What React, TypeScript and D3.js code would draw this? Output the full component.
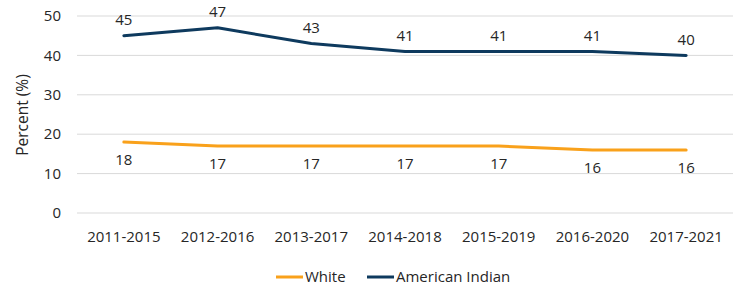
import { useEffect, useRef } from "react"
import * as d3 from "d3"

const periods = ["2011-2015", "2012-2016", "2013-2017", "2014-2018", "2015-2019", "2016-2020", "2017-2021"]
const whiteValues = [18, 17, 17, 17, 17, 16, 16]
const americanIndianValues = [45, 47, 43, 41, 41, 41, 40]
const yTicks = [0, 10, 20, 30, 40, 50]

const series = [
  { name: "White", values: whiteValues, color: "#F9A11B", labelBelow: true },
  { name: "American Indian", values: americanIndianValues, color: "#0E3A5E", labelBelow: false },
]

const FONT = "'Open Sans', sans-serif"
const TEXT = "#262626"

export default function App() {
  const svgRef = useRef<SVGSVGElement>(null)

  useEffect(() => {
    const svg = d3.select(svgRef.current)
    svg.selectAll("*").remove()

    const x = d3.scalePoint<string>().domain(periods).range([77, 733]).padding(0.5)
    const y = d3.scaleLinear().domain([0, 50]).range([213, 16])

    // grid
    svg.append("g")
      .selectAll("line")
      .data(yTicks)
      .enter()
      .append("line")
      .attr("x1", 77)
      .attr("x2", 733)
      .attr("y1", d => y(d))
      .attr("y2", d => y(d))
      .attr("stroke", "#d9d9d9")
      .attr("stroke-width", 1)

    // y labels
    svg.append("g")
      .selectAll("text")
      .data(yTicks)
      .enter()
      .append("text")
      .attr("x", 61)
      .attr("y", d => y(d))
      .attr("dy", "0.35em")
      .attr("text-anchor", "end")
      .style("font-family", FONT)
      .style("font-size", "15px")
      .style("fill", TEXT)
      .text(d => d)

    svg.append("text")
      .attr("transform", "translate(23,115) rotate(-90)")
      .attr("text-anchor", "middle")
      .attr("dy", "0.35em")
      .style("font-family", FONT)
      .style("font-size", "15.5px")
      .style("fill", TEXT)
      .text("Percent (%)")

    // x labels
    svg.append("g")
      .selectAll("text")
      .data(periods)
      .enter()
      .append("text")
      .attr("x", d => x(d)!)
      .attr("y", 237)
      .attr("dy", "0.35em")
      .attr("text-anchor", "middle")
      .style("font-family", FONT)
      .style("font-size", "15px")
      .style("fill", TEXT)
      .text(d => d)

    const line = d3.line<number>()
      .x((_, i) => x(periods[i])!)
      .y(d => y(d))

    series.forEach(s => {
      svg.append("path")
        .datum(s.values)
        .attr("fill", "none")
        .attr("stroke", s.color)
        .attr("stroke-width", 3)
        .attr("stroke-linejoin", "round")
        .attr("stroke-linecap", "round")
        .attr("d", line)

      svg.append("g")
        .selectAll("text")
        .data(s.values)
        .enter()
        .append("text")
        .attr("x", (_, i) => x(periods[i])!)
        .attr("y", d => y(d) + (s.labelBelow ? 18 : -16))
        .attr("dy", "0.35em")
        .attr("text-anchor", "middle")
        .style("font-family", FONT)
        .style("font-size", "15px")
        .style("fill", TEXT)
        .text(d => d)
    })

    // legend
    const legendX = [276, 367]
    series.forEach((s, i) => {
      const g = svg.append("g").attr("transform", `translate(${legendX[i]},277)`)
      g.append("line")
        .attr("x1", 0)
        .attr("x2", 27)
        .attr("stroke", s.color)
        .attr("stroke-width", 3)
      g.append("text")
        .attr("x", 29)
        .attr("dy", "0.35em")
        .style("font-family", FONT)
        .style("font-size", "15px")
        .style("fill", TEXT)
        .text(s.name)
    })
  }, [])

  return (
    <svg
      ref={svgRef}
      width={735}
      height={289}
      style={{ position: "absolute", left: 0, top: 0, background: "#fff" }}
    />
  )
}
